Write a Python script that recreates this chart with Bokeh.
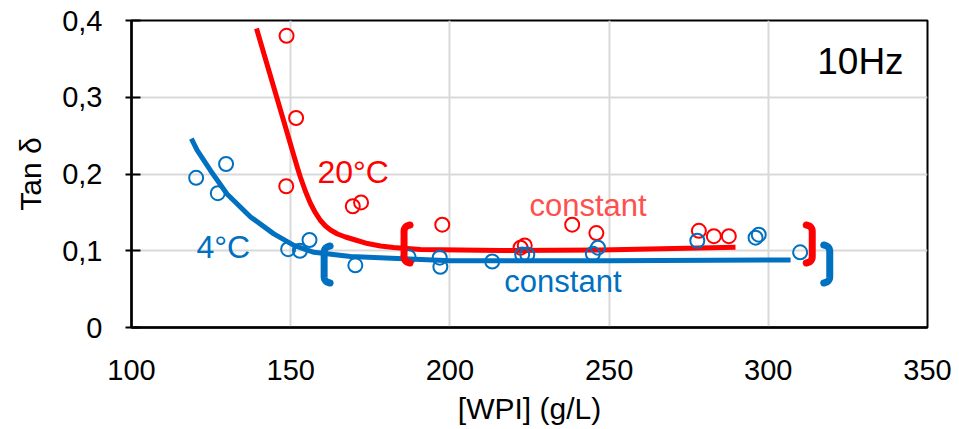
from bokeh.plotting import figure
from bokeh.models import Range1d, FixedTicker, CustomJSTickFormatter
from bokeh.core.properties import value
from bokeh.embed import file_html
from bokeh.resources import INLINE

# ---- data ----
red_x = [148.7, 151.7, 148.6, 169.5, 172.1, 197.6, 222.2, 223.5, 238.4, 246.0, 278.2, 282.9, 287.6]
red_y = [0.380, 0.273, 0.184, 0.158, 0.163, 0.134, 0.104, 0.107, 0.134, 0.123, 0.126, 0.119, 0.119]

blue_x = [120.3, 127.1, 129.7, 149.2, 152.9, 155.9, 170.3, 187.0, 196.8, 197.0, 213.3,
          222.7, 224.3, 244.9, 246.5, 277.7, 296.0, 297.0, 310.0]
blue_y = [0.195, 0.175, 0.213, 0.102, 0.100, 0.114, 0.081, 0.092, 0.091, 0.079, 0.086,
          0.095, 0.095, 0.096, 0.104, 0.113, 0.117, 0.121, 0.098]

red_fit_x = [139.26, 142.40, 145.54, 148.68, 150.88, 152.14, 153.08, 154.65, 156.22, 157.79,
             159.36, 160.93, 162.50, 164.70, 167.21, 170.35, 174.12, 178.20, 182.29, 190.77,
             215.89, 247.30, 289.70]
red_fit_y = [0.3896, 0.3453, 0.3010, 0.2567, 0.2254, 0.2078, 0.1954, 0.1772, 0.1616, 0.1492,
             0.1394, 0.1322, 0.1270, 0.1218, 0.1179, 0.1140, 0.1094, 0.1062, 0.1042, 0.1016,
             0.1003, 0.1010, 0.1046]

blue_fit_x = [118.8, 120.6, 124.8, 130.0, 137.4, 144.7, 151.0, 157.3, 168.8, 200.2, 250.0, 307.0]
blue_fit_y = [0.246, 0.231, 0.2046, 0.174, 0.144, 0.122, 0.107, 0.098, 0.0925, 0.087, 0.087, 0.088]

# brackets: (x of outer stroke, top, bottom, direction +1 = "(", -1 = ")")
red_br_x = [184.5, 314.9]
red_br_top = [0.1368, 0.1368]
red_br_bot = [0.0808, 0.0808]
red_br_dir = [1, -1]
blue_br_x = [159.4, 320.4]
blue_br_top = [0.1094, 0.1107]
blue_br_bot = [0.0547, 0.0547]
blue_br_dir = [1, -1]

x_ticks = [100, 150, 200, 250, 300, 350]
y_ticks = [0, 0.1, 0.2, 0.3, 0.4]

RED = "#FF0000"
BLUE = "#0070C0"
FONT = "Liberation Sans"

p = figure(width=959, height=429, output_backend="svg", toolbar_location=None,
           x_range=Range1d(100, 350), y_range=Range1d(0, 0.4),
           min_border_left=131, min_border_right=32, min_border_top=20, min_border_bottom=102)
p.background_fill_color = "white"
p.border_fill_color = "white"
p.outline_line_color = "black"
p.outline_line_width = 2

p.xaxis.ticker = FixedTicker(ticks=x_ticks)
p.yaxis.ticker = FixedTicker(ticks=y_ticks)
p.yaxis.formatter = CustomJSTickFormatter(
    code="return tick == 0 ? '0' : tick.toFixed(1).replace('.', ',');")
p.xaxis.formatter = CustomJSTickFormatter(code="return tick.toFixed(0);")

for ax in (p.xaxis[0], p.yaxis[0]):
    ax.axis_line_color = "black"
    ax.axis_line_width = 2.5
    ax.major_label_text_font = FONT
    ax.major_label_text_font_size = "29px"
    ax.major_label_text_color = "black"
    ax.axis_label_text_font = FONT
    ax.axis_label_text_font_size = "30px"
    ax.axis_label_text_font_style = "normal"
    ax.axis_label_text_color = "black"
    ax.minor_tick_line_color = None

p.xaxis.major_tick_line_color = None
p.xaxis.major_tick_out = 0
p.xaxis.major_tick_in = 0
p.xaxis.major_label_standoff = 32
p.xaxis.axis_label = "[WPI] (g/L)"
p.xaxis.axis_label_standoff = 9

p.yaxis.major_tick_line_color = "black"
p.yaxis.major_tick_line_width = 2
p.yaxis.major_tick_out = 6
p.yaxis.major_tick_in = 9
p.yaxis.major_label_standoff = 23
p.yaxis.axis_label = "Tan δ"
p.yaxis.axis_label_standoff = 12

p.xgrid.ticker = FixedTicker(ticks=x_ticks)
p.ygrid.ticker = FixedTicker(ticks=y_ticks)
p.grid.grid_line_color = "#D9D9D9"
p.grid.grid_line_width = 2

# fitted curves
p.line(red_fit_x, red_fit_y, line_color=RED, line_width=5, line_join="round")
p.line(blue_fit_x, blue_fit_y, line_color=BLUE, line_width=5, line_join="round")

# data points
p.scatter(red_x, red_y, marker="circle", size=14, fill_color=None, line_color=RED, line_width=2)
p.scatter(blue_x, blue_y, marker="circle", size=14, fill_color=None, line_color=BLUE, line_width=2)

# brackets built from bracket arrays
DX = 250.0 / 796.0   # data units per pixel (x)
DY = 0.4 / 307.0     # data units per pixel (y)


def bracket(x, top, bot, d):
    c = x + d * 3.5 * DX          # center of the vertical stroke
    w = 6 * DX                    # hook reach
    r = 9 * DY                    # hook height
    xs, ys = [], []
    n = 10
    for i in range(n + 1):        # top hook: quadratic from tip to stroke
        t = i / n
        px = (1 - t) ** 2 * (c + d * w) + 2 * (1 - t) * t * c + t ** 2 * c
        py = (1 - t) ** 2 * (top - 2.5 * DY) + 2 * (1 - t) * t * (top - 3.5 * DY) + t ** 2 * (top - r)
        xs.append(px); ys.append(py)
    for i in range(n + 1):        # bottom hook
        t = i / n
        px = (1 - t) ** 2 * c + 2 * (1 - t) * t * c + t ** 2 * (c + d * w)
        py = (1 - t) ** 2 * (bot + r) + 2 * (1 - t) * t * (bot + 3.5 * DY) + t ** 2 * (bot + 2.5 * DY)
        xs.append(px); ys.append(py)
    return xs, ys


for bx, bt, bb, bd in zip(red_br_x, red_br_top, red_br_bot, red_br_dir):
    xs, ys = bracket(bx, bt, bb, bd)
    p.line(xs, ys, line_color=RED, line_width=7, line_join="round", line_cap="round")
for bx, bt, bb, bd in zip(blue_br_x, blue_br_top, blue_br_bot, blue_br_dir):
    xs, ys = bracket(bx, bt, bb, bd)
    p.line(xs, ys, line_color=BLUE, line_width=7, line_join="round", line_cap="round")

# annotations
p.text(x=[158.4], y=[0.2032], text=["20°C"], text_color=RED, text_font=value(FONT),
       text_font_size="32px", text_baseline="alphabetic", text_align="left")
p.text(x=[120.4], y=[0.1055], text=["4°C"], text_color=BLUE, text_font=value(FONT),
       text_font_size="32px", text_baseline="alphabetic", text_align="left")
p.text(x=[225.0], y=[0.1593], text=["constant"], text_color="#FF4F4F", text_font=value(FONT),
       text_font_size="31px", text_baseline="alphabetic", text_align="left")
p.text(x=[217.1], y=[0.0599], text=["constant"], text_color=BLUE, text_font=value(FONT),
       text_font_size="31px", text_baseline="alphabetic", text_align="left")
p.text(x=[342.5], y=[0.3462], text=["10Hz"], text_color="black", text_font=value(FONT),
       text_font_size="37px", text_baseline="alphabetic", text_align="right")

open("out.html", "w").write(file_html(p, INLINE))
